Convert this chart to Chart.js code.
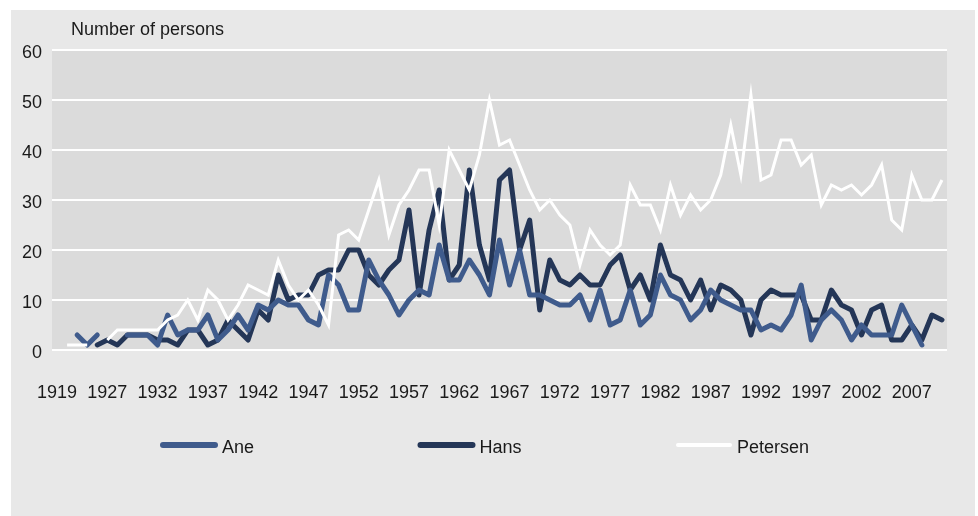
<!DOCTYPE html>
<html>
<head>
<meta charset="utf-8">
<title>Number of persons</title>
<script src="https://cdn.jsdelivr.net/npm/chart.js@4.4.0/dist/chart.umd.min.js"></script>
<style>
  html, body { margin: 0; padding: 0; background: #ffffff; }
  #wrap { width: 978px; height: 516px; }
</style>
</head>
<body>
<div id="wrap"><canvas id="namesChart" width="978" height="516"></canvas></div>
<script>
// years on the x axis (the early years are not consecutive)
const years = [
  '1919', '1921', '1922', '1924', '1926', '1927', '1928', '1929', '1930', '1931',
  '1932', '1933', '1934', '1935', '1936', '1937', '1938', '1939', '1940', '1941',
  '1942', '1943', '1944', '1945', '1946', '1947', '1948', '1949', '1950', '1951',
  '1952', '1953', '1954', '1955', '1956', '1957', '1958', '1959', '1960', '1961',
  '1962', '1963', '1964', '1965', '1966', '1967', '1968', '1969', '1970', '1971',
  '1972', '1973', '1974', '1975', '1976', '1977', '1978', '1979', '1980', '1981',
  '1982', '1983', '1984', '1985', '1986', '1987', '1988', '1989', '1990', '1991',
  '1992', '1993', '1994', '1995', '1996', '1997', '1998', '1999', '2000', '2001',
  '2002', '2003', '2004', '2005', '2006', '2007', '2008', '2009', '2010'
];

// number of persons per year
const ane = [
  null, null, 3, 1, 3, null, null, 3, 3, 3,
  1, 7, 3, 4, 4, 7, 2, 4, 7, 4,
  9, 8, 10, 9, 9, 6, 5, 15, 13, 8,
  8, 18, 14, 11, 7, 10, 12, 11, 21, 14,
  14, 18, 15, 11, 22, 13, 20, 11, 11, 10,
  9, 9, 11, 6, 12, 5, 6, 12, 5, 7,
  15, 11, 10, 6, 8, 12, 10, 9, 8, 8,
  4, 5, 4, 7, 13, 2, 6, 8, 6, 2,
  5, 3, 3, 3, 9, 5, 1, null, null
];
const hans = [
  null, null, null, null, 1, 2, 1, 3, 3, 3,
  2, 2, 1, 4, 4, 1, 2, 6, 4, 2,
  8, 6, 15, 10, 11, 11, 15, 16, 16, 20,
  20, 15, 13, 16, 18, 28, 11, 24, 32, 14,
  17, 36, 21, 14, 34, 36, 20, 26, 8, 18,
  14, 13, 15, 13, 13, 17, 19, 12, 15, 10,
  21, 15, 14, 10, 14, 8, 13, 12, 10, 3,
  10, 12, 11, 11, 11, 6, 6, 12, 9, 8,
  3, 8, 9, 2, 2, 5, 2, 7, 6
];
const petersen = [
  null, 1, 1, 1, null, 2, 4, 4, 4, 4,
  4, 6, 7, 10, 6, 12, 10, 6, 9, 13,
  12, 11, 18, 13, 10, 12, 9, 5, 23, 24,
  22, 28, 34, 23, 29, 32, 36, 36, 25, 40,
  36, 32, 39, 50, 41, 42, 37, 32, 28, 30,
  27, 25, 17, 24, 21, 19, 21, 33, 29, 29,
  24, 33, 27, 31, 28, 30, 35, 45, 35, 51,
  34, 35, 42, 42, 37, 39, 29, 33, 32, 33,
  31, 33, 37, 26, 24, 35, 30, 30, 34
];

const yTicks = [0, 10, 20, 30, 40, 50, 60];
const axisCaption = 'Number of persons';

const FONT = '"Liberation Sans", Arial, sans-serif';
const TEXT = '#1a1a1a';

// grey panel + grey plot area behind the lines
const backgroundPlugin = {
  id: 'panels',
  beforeDraw(chart) {
    const { ctx, chartArea } = chart;
    ctx.save();
    ctx.fillStyle = '#ffffff';
    ctx.fillRect(0, 0, chart.width, chart.height);
    ctx.fillStyle = '#e8e8e8';
    ctx.fillRect(11, 10, chart.width - 14, chart.height - 10);
    ctx.fillStyle = '#dbdbdb';
    ctx.fillRect(chartArea.left, chartArea.top, chartArea.right - chartArea.left, chartArea.bottom - chartArea.top);
    ctx.restore();
  }
};

// caption above the y axis and the wide legend under the chart
const captionLegendPlugin = {
  id: 'captionLegend',
  afterDraw(chart) {
    const { ctx, chartArea } = chart;
    ctx.save();
    ctx.font = '18px ' + FONT;
    ctx.fillStyle = TEXT;
    ctx.textBaseline = 'alphabetic';
    ctx.textAlign = 'left';
    ctx.fillText(axisCaption, chartArea.left + 19, chartArea.top - 15);

    const colWidth = 257.5;
    const lineLen = 58;
    const y = chartArea.bottom + 95;
    chart.data.datasets.forEach((ds, i) => {
      const x0 = chartArea.left + 108 + i * colWidth;
      ctx.beginPath();
      ctx.lineCap = 'round';
      ctx.strokeStyle = ds.borderColor;
      ctx.lineWidth = ds.borderWidth + 1;
      ctx.moveTo(x0 + 3, y);
      ctx.lineTo(x0 + lineLen - 3, y);
      ctx.stroke();
      ctx.fillStyle = TEXT;
      ctx.textBaseline = 'middle';
      ctx.fillText(ds.label, x0 + lineLen + 4, y + 3);
    });
    ctx.restore();
  }
};

const ctx = document.getElementById('namesChart');
new Chart(ctx.getContext('2d'), {
  type: 'line',
  data: {
    labels: years,
    datasets: [
      { label: 'Ane', data: ane, borderColor: '#3f5b8c', borderWidth: 5, order: 1,
        borderJoinStyle: 'round', borderCapStyle: 'round' },
      { label: 'Hans', data: hans, borderColor: '#243657', borderWidth: 5, order: 2,
        borderJoinStyle: 'round', borderCapStyle: 'round' },
      { label: 'Petersen', data: petersen, borderColor: '#ffffff', borderWidth: 3, order: 0 }
    ]
  },
  options: {
    responsive: false,
    animation: false,
    devicePixelRatio: 1,
    spanGaps: false,
    elements: {
      point: { radius: 0, hoverRadius: 0 },
      line: { tension: 0, fill: false }
    },
    layout: { padding: { top: 50, right: 31, bottom: 116, left: 0 } },
    plugins: {
      legend: { display: false },
      title: { display: false },
      tooltip: { enabled: false }
    },
    scales: {
      x: {
        type: 'category',
        offset: true,
        grid: { display: false },
        border: { display: false },
        afterFit(scale) { scale.height = 50; },
        ticks: {
          autoSkip: false,
          maxRotation: 0,
          padding: 24,
          color: TEXT,
          font: { family: FONT, size: 18 },
          callback(val, idx) { return idx % 5 === 0 ? this.getLabelForValue(val) : null; }
        }
      },
      y: {
        min: yTicks[0],
        max: yTicks[yTicks.length - 1],
        afterFit(scale) { scale.width = 52; },
        afterBuildTicks(scale) { scale.ticks = yTicks.map(v => ({ value: v })); },
        grid: { color: '#ffffff', lineWidth: 2, drawTicks: false },
        border: { display: false },
        ticks: {
          padding: 10,
          labelOffset: 3,
          color: TEXT,
          font: { family: FONT, size: 18 }
        }
      }
    }
  },
  plugins: [backgroundPlugin, captionLegendPlugin]
});
</script>
</body>
</html>
